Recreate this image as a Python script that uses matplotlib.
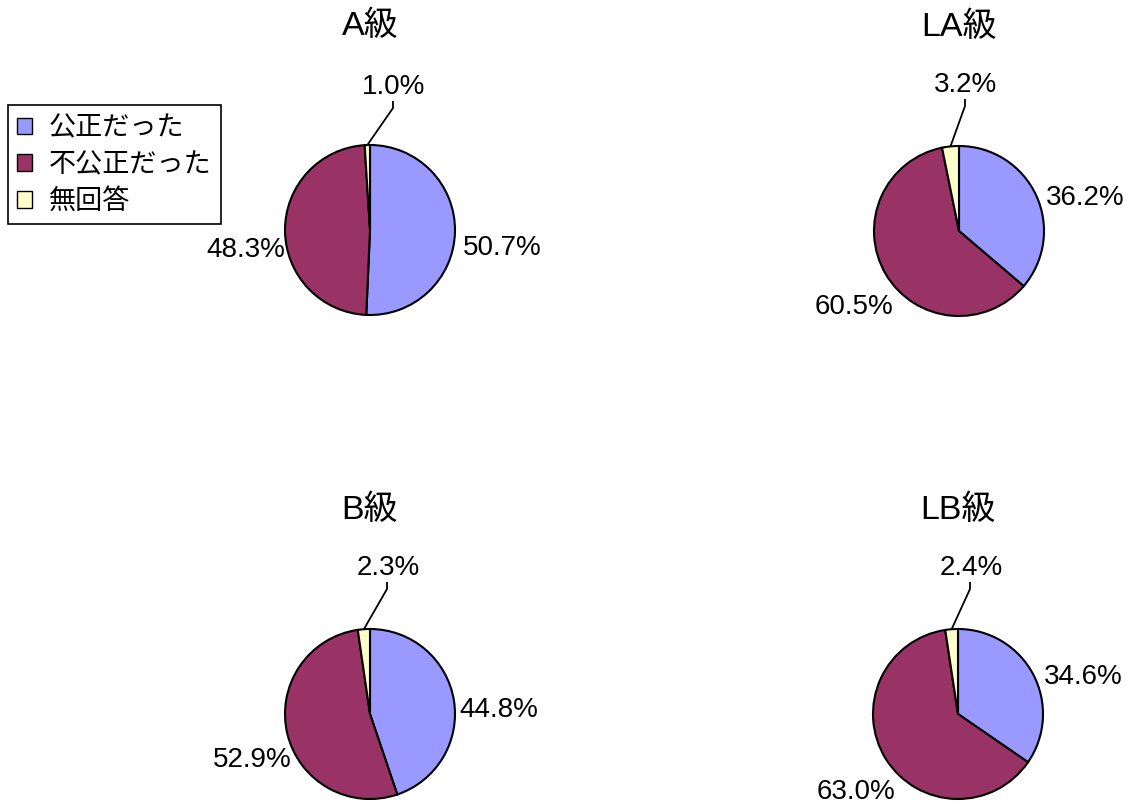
import math
import matplotlib
matplotlib.use("Agg")
import matplotlib.pyplot as plt

W, H = 1126, 805

# data
grades = ["A級", "LA級", "B級", "LB級"]
answers = ["公正だった", "不公正だった", "無回答"]
fair = [50.7, 36.2, 44.8, 34.6]
unfair = [48.3, 60.5, 52.9, 63.0]
no_answer = [1.0, 3.2, 2.3, 2.4]

colors = ["#9999FF", "#993366", "#FFFFCC"]

# layout, in pixels (y grows downward)
centers = [(370, 230), (959, 231), (370, 714), (958, 714)]
radius = 85
title_dy = -204
label_offsets = [
    [(132, 18), (-124, 20), (24, -143)],
    [(126, -33), (-105, 76), (7, -146)],
    [(129, -4), (-118, 46), (18, -146)],
    [(125, -37), (-102, 78), (13, -146)],
]

latin = ["Liberation Sans", "Noto Sans CJK JP", "DejaVu Sans"]
jp = ["Noto Sans CJK JP", "DejaVu Sans"]

fig = plt.figure(figsize=(W / 100, H / 100), dpi=100, facecolor="white")
ax = fig.add_axes([0, 0, 1, 1])

wedges_first = None
for i, grade in enumerate(grades):
    vals = [fair[i], unfair[i], no_answer[i]]
    cx, cy = centers[i]
    # y axis is inverted below, so counterclock=True draws clockwise on screen
    wedges, _ = ax.pie(vals, colors=colors, startangle=-90, counterclock=True,
                       center=(cx, cy), radius=radius, normalize=True,
                       wedgeprops=dict(edgecolor="black", linewidth=1.5))
    if wedges_first is None:
        wedges_first = wedges

    ax.text(cx, cy + title_dy, grade, fontsize=24.5, family=latin,
            ha="center", va="center", color="black")

    for j, v in enumerate(vals):
        dx, dy = label_offsets[i][j]
        ax.text(cx + dx, cy + dy, f"{v:.1f}%", fontsize=20, family=latin,
                ha="center", va="center", color="black")

    # leader line for the small slice
    w = wedges[2]
    mid = math.radians((w.theta1 + w.theta2) / 2)
    x0 = cx + radius * math.cos(mid)
    y0 = cy + radius * math.sin(mid)
    lx, ly = cx + label_offsets[i][2][0] - 1, cy + label_offsets[i][2][1]
    ax.plot([x0, lx, lx], [y0, ly + 21, ly + 14], color="black", lw=1.3,
            solid_capstyle="butt")

ax.set_xlim(0, W)
ax.set_ylim(H, 0)
ax.set_aspect("equal")
ax.set_xticks([])
ax.set_yticks([])
ax.set_frame_on(False)

leg = ax.legend(wedges_first, answers, loc="upper left",
                bbox_to_anchor=(8, 105), bbox_transform=ax.transData,
                prop={"family": jp, "size": 19.5}, frameon=True, fancybox=False,
                edgecolor="black", framealpha=1, borderpad=0.35,
                labelspacing=0.36, handlelength=0.55, handleheight=0.55,
                handletextpad=0.6, borderaxespad=0)
leg.get_frame().set_linewidth(1.2)
for h in leg.legend_handles:
    h.set_linewidth(1.0)

fig.savefig("out.png", dpi=100, facecolor="white")
plt.close(fig)
